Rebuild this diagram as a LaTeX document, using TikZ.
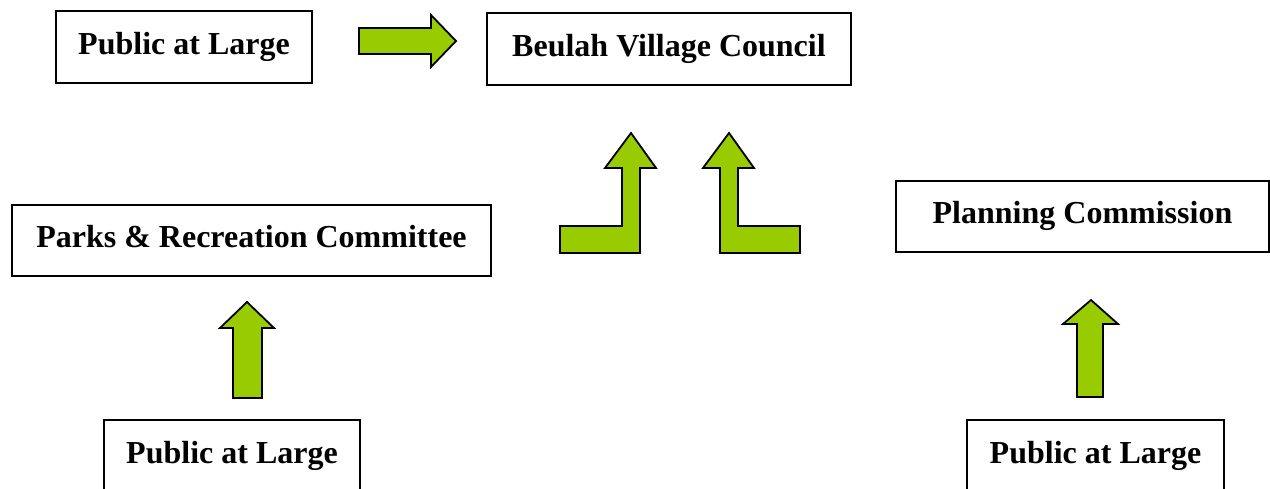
\documentclass[tikz,border=0pt]{standalone}
\usepackage{fontspec}
\setmainfont{Liberation Serif}
\usepackage{tikz}
\definecolor{arrowgreen}{HTML}{99CC00}
\tikzset{
	box/.style={draw, line width=2pt, inner sep=0pt, text height=22pt, text depth=8pt,
		font=\fontsize{32}{38}\selectfont\bfseries},
	greenarrow/.style={draw, fill=arrowgreen, line width=1.8pt, line join=miter}
}

\begin{document}
\begin{tikzpicture}[x=1pt, y=-1pt]
	\clip (0,0) rectangle (1270,488);
	%%%nodes
	%top row
	\node[box, minimum width=256, minimum height=72] at (184,47) (PubTop){Public at Large};
	\node[box, minimum width=364, minimum height=72] at (669,49) (Council){Beulah Village Council};
	%middle row
	\node[box, minimum width=479, minimum height=71] at (251.5,240.5) (Parks){Parks \& Recreation Committee};
	\node[box, minimum width=373, minimum height=71] at (1082.5,216.5) (Planning){Planning Commission};
	%bottom row
	\node[box, minimum width=256, minimum height=72] at (232,456) (PubLeft){Public at Large};
	\node[box, minimum width=257, minimum height=72] at (1095.5,456) (PubRight){Public at Large};
	%%%arrows
	%public -> council
	\draw[greenarrow] (359,28) -- (431,28) -- (431,15) -- (456,41) -- (431,67) -- (431,54) -- (359,54) -- cycle;
	%parks -> council
	\draw[greenarrow] (560,226) -- (622,226) -- (622,168) -- (605,168) -- (631,133) -- (656,168)
		-- (640,168) -- (640,253) -- (560,253) -- cycle;
	%planning -> council
	\draw[greenarrow] (720,253) -- (720,168) -- (703,168) -- (729,133) -- (754,168) -- (738,168)
		-- (738,226) -- (800,226) -- (800,253) -- cycle;
	%public -> parks
	\draw[greenarrow] (233,398) -- (233,328) -- (220,328) -- (247,302) -- (274,328) -- (262,328) -- (262,398) -- cycle;
	%public -> planning
	\draw[greenarrow] (1077,397) -- (1077,324) -- (1063,324) -- (1091,300) -- (1118,324) -- (1103,324) -- (1103,397) -- cycle;
\end{tikzpicture}
\end{document}
